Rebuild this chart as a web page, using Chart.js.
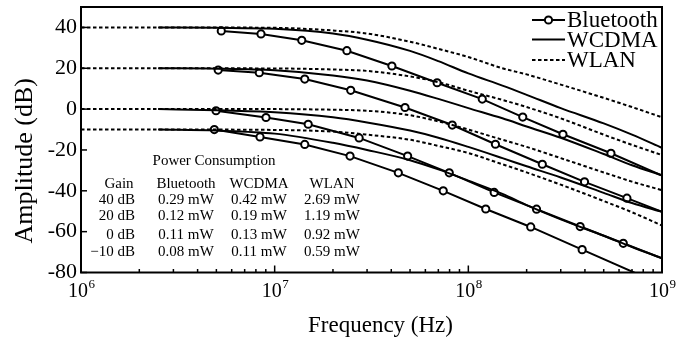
<!DOCTYPE html>
<html><head><meta charset="utf-8">
<script src="https://cdn.jsdelivr.net/npm/chart.js@4.4.1/dist/chart.umd.min.js"></script>
<style>html,body{margin:0;padding:0;background:#fff;}#wrap{width:693px;height:341px;}</style>
</head><body><div id="wrap"><canvas id="c" width="693" height="341"></canvas></div>
<script>
// ---------- data ----------
const yTicks = [40, 20, 0, -20, -40, -60, -80];
const xTicks = [1e6, 1e7, 1e8, 1e9];
const xTickBase = '10';
const xTickExp = ['6', '7', '8', '9'];

const wlanFreq = [1e6, 3e6, 1e7, 2e7, 3e7, 5e7, 7e7, 1e8, 1.5e8, 2e8, 3e8, 5e8, 7e8, 1e9];
const wlan40  = [40, 40, 39.8, 38.5, 37, 33, 29.5, 25.5, 20, 17, 12, 5.5, 1, -4];
const wlan20  = [20, 20, 19.9, 19.4, 18.7, 16, 13.2, 9, 4.5, 1, -4.5, -12.5, -17.5, -22.5];
const wlan0   = [0, 0, 0, -0.3, -0.8, -3, -6, -10, -15, -18.5, -24, -31, -35.5, -39.7];
const wlanM10 = [-10, -10, -10.2, -11, -12.5, -15, -18, -21.5, -27, -31, -37, -45, -50.5, -57];

const wcdmaFreq = [2.5e6, 5e6, 1e7, 2e7, 3e7, 5e7, 7e7, 1e8, 1.5e8, 2e8, 3e8, 5e8, 7e8, 1e9];
const wcdma40  = [40, 39.8, 39.3, 37, 34, 28.5, 23.5, 17.5, 11.5, 7, 0.5, -7, -12.5, -19];
const wcdma20  = [20, 19.8, 19, 16.5, 14, 9, 5, 0.5, -4.5, -8.5, -14, -22, -27.5, -32.4];
const wcdma0   = [0, -0.5, -1.5, -4, -6.5, -10.5, -14, -18.5, -24, -28, -33.5, -41, -46, -50.3];
const wcdmaM10 = [-10, -10.5, -12, -16.5, -20, -25, -29.5, -35, -41.5, -47, -54, -62, -67.5, -73];

const btFreq40 = [5.3e6, 8.5e6, 1.38e7, 2.36e7, 4.03e7, 6.9e7, 1.18e8, 1.91e8, 3.08e8, 5.45e8, 1e9];
const bt40     = [38.3, 36.8, 33.7, 28.6, 21.1, 12.9, 4.9, -3.9, -12.3, -21.6, -32.5];
const btFreq20 = [5.11e6, 8.33e6, 1.43e7, 2.47e7, 4.71e7, 8.26e7, 1.38e8, 2.41e8, 3.98e8, 6.59e8, 1e9];
const bt20     = [19.1, 17.8, 14.7, 9.2, 0.8, -7.8, -17.2, -27.0, -35.6, -43.6, -50.3];
const btFreq0  = [4.98e6, 9.02e6, 1.49e7, 2.73e7, 4.86e7, 7.97e7, 1.36e8, 2.25e8, 3.78e8, 6.31e8, 1e9];
const bt0      = [-0.8, -4.1, -7.4, -14.1, -23.0, -31.2, -40.8, -49.0, -57.5, -65.7, -73.0];
const btFreqM10 = [4.88e6, 8.4e6, 1.43e7, 2.45e7, 4.35e7, 7.42e7, 1.23e8, 2.10e8, 3.87e8, 1e9];
const btM10     = [-10.0, -13.6, -17.3, -23.0, -31.2, -40.0, -48.9, -57.7, -68.8, -86];

const seriesNames = ['Bluetooth', 'WCDMA', 'WLAN'];
const tableTitle = 'Power Consumption';
const tableHeader = ['Gain', 'Bluetooth', 'WCDMA', 'WLAN'];
const tableGain = ['40 dB', '20 dB', '0 dB', '\u221210 dB'];
const powerBT = ['0.29 mW', '0.12 mW', '0.11 mW', '0.08 mW'];
const powerWCDMA = ['0.42 mW', '0.19 mW', '0.13 mW', '0.11 mW'];
const powerWLAN = ['2.69 mW', '1.19 mW', '0.92 mW', '0.59 mW'];
const xTitle = 'Frequency (Hz)';
const yTitle = 'Amplitude (dB)';

// ---------- build ----------
const SERIF = '"Liberation Serif", "Times New Roman", serif';
const pts = (fs, vs) => fs.map((f, i) => ({x: f, y: vs[i]}));
const lineDs = (label, fs, vs, dashed) => ({
  label, data: pts(fs, vs), borderColor: '#000', borderWidth: 2,
  borderDash: dashed ? [3.5, 2.5] : [], pointRadius: 0, fill: false,
  cubicInterpolationMode: 'monotone'
});
const btDs = (label, fs, vs) => ({
  label, data: pts(fs, vs), borderColor: '#000', borderWidth: 2, backgroundColor: '#fff',
  pointBackgroundColor: '#fff', pointBorderColor: '#000', pointBorderWidth: 2,
  pointRadius: c => (c.dataIndex === vs.length - 1 ? 0 : 3.6), fill: false, tension: 0,
});

const datasets = [
  lineDs('WLAN 40', wlanFreq, wlan40, true),
  lineDs('WLAN 20', wlanFreq, wlan20, true),
  lineDs('WLAN 0', wlanFreq, wlan0, true),
  lineDs('WLAN -10', wlanFreq, wlanM10, true),
  lineDs('WCDMA 40', wcdmaFreq, wcdma40, false),
  lineDs('WCDMA 20', wcdmaFreq, wcdma20, false),
  lineDs('WCDMA 0', wcdmaFreq, wcdma0, false),
  lineDs('WCDMA -10', wcdmaFreq, wcdmaM10, false),
  btDs('Bluetooth 40', btFreq40, bt40),
  btDs('Bluetooth 20', btFreq20, bt20),
  btDs('Bluetooth 0', btFreq0, bt0),
  btDs('Bluetooth -10', btFreqM10, btM10),
];

const decorPlugin = {
  id: 'decor',
  afterDatasetsDraw(chart) {
    const {ctx, chartArea: a, scales: {x, y}} = chart;
    ctx.save();
    // frame
    ctx.strokeStyle = '#000'; ctx.lineWidth = 2;
    ctx.strokeRect(a.left, a.top, a.right - a.left, a.bottom - a.top);
    // inward y ticks
    ctx.lineWidth = 1.5;
    yTicks.forEach(v => {
      const py = y.getPixelForValue(v);
      ctx.beginPath(); ctx.moveTo(a.left, py); ctx.lineTo(a.left + 6, py); ctx.stroke();
    });
    // inward x ticks (major + minor)
    for (let d = 6; d < 9; d++) {
      for (let k = 1; k <= 9; k++) {
        const px = x.getPixelForValue(k * Math.pow(10, d));
        const len = k === 1 ? 7 : 3.5;
        ctx.beginPath(); ctx.moveTo(px, a.bottom); ctx.lineTo(px, a.bottom - len); ctx.stroke();
      }
    }
    // x tick labels with superscript
    ctx.fillStyle = '#000';
    ctx.textBaseline = 'middle';
    xTicks.forEach((v, i) => {
      const px = x.getPixelForValue(v);
      ctx.font = '20px ' + SERIF;
      ctx.textAlign = 'center';
      const w = ctx.measureText(xTickBase).width;
      ctx.fillText(xTickBase, px - 3, a.bottom + 19);
      ctx.font = '13px ' + SERIF;
      ctx.textAlign = 'left';
      ctx.fillText(xTickExp[i], px - 3 + w / 2 + 0.5, a.bottom + 12);
    });
    // axis titles
    ctx.font = '23px ' + SERIF; ctx.textAlign = 'center';
    ctx.fillText(xTitle, (a.left + a.right) / 2 + 9, a.bottom + 53);
    ctx.save();
    ctx.translate(25, (a.top + a.bottom) / 2 + 21);
    ctx.rotate(-Math.PI / 2);
    ctx.font = '26px ' + SERIF;
    ctx.fillText(yTitle, 0, 0);
    ctx.restore();
    // legend
    const lx0 = a.right - 130, lx1 = a.right - 97, tx = a.right - 95;
    const rows = [a.top + 13, a.top + 32.5, a.top + 53];
    ctx.font = '23px ' + SERIF; ctx.textAlign = 'left';
    seriesNames.forEach((n, i) => {
      const ry = rows[i];
      ctx.lineWidth = 2; ctx.strokeStyle = '#000';
      ctx.setLineDash(i === 2 ? [3.5, 2.5] : []);
      ctx.beginPath(); ctx.moveTo(lx0, ry); ctx.lineTo(lx1, ry); ctx.stroke();
      ctx.setLineDash([]);
      if (i === 0) {
        ctx.beginPath(); ctx.arc((lx0 + lx1) / 2, ry, 3.6, 0, Math.PI * 2);
        ctx.fillStyle = '#fff'; ctx.fill(); ctx.stroke();
      }
      ctx.fillStyle = '#000';
      ctx.fillText(n, tx, ry + 1);
    });
    // power table
    ctx.font = '15px ' + SERIF; ctx.textAlign = 'center';
    ctx.fillText(tableTitle, a.left + 133, 161);
    const cols = [a.left + 38, a.left + 105, a.left + 178, a.left + 251];
    tableHeader.forEach((h, i) => ctx.fillText(h, cols[i], 184.5));
    const rowY = [200, 216, 235, 252];
    rowY.forEach((ry, r) => {
      ctx.textAlign = 'right';
      ctx.fillText(tableGain[r], a.left + 54, ry);
      ctx.textAlign = 'center';
      ctx.fillText(powerBT[r], cols[1], ry);
      ctx.fillText(powerWCDMA[r], cols[2], ry);
      ctx.fillText(powerWLAN[r], cols[3], ry);
    });
    ctx.restore();
  }
};

new Chart(document.getElementById('c'), {
  type: 'line',
  data: {datasets},
  options: {
    responsive: false, animation: false, devicePixelRatio: 1,
    layout: {padding: {left: 0, right: 31, top: 7, bottom: 0}},
    plugins: {legend: {display: false}, tooltip: {enabled: false}},
    scales: {
      x: {
        type: 'logarithmic', min: 1e6, max: 1e9,
        grid: {display: false, drawTicks: false}, border: {display: false},
        ticks: {display: false},
        afterFit: s => { s.height = 68.5; s.paddingLeft = 0; s.paddingRight = 0; }
      },
      y: {
        type: 'linear', min: -80, max: 50,
        grid: {display: false, drawTicks: false}, border: {display: false},
        afterBuildTicks: s => { s.ticks = yTicks.map(v => ({value: v})); },
        ticks: {
          font: {family: SERIF, size: 22}, color: '#000', padding: 4,
          callback: v => String(v)
        },
        afterFit: s => { s.width = 81; s.paddingTop = 0; s.paddingBottom = 0; }
      }
    }
  },
  plugins: [decorPlugin]
});
</script></body></html>
